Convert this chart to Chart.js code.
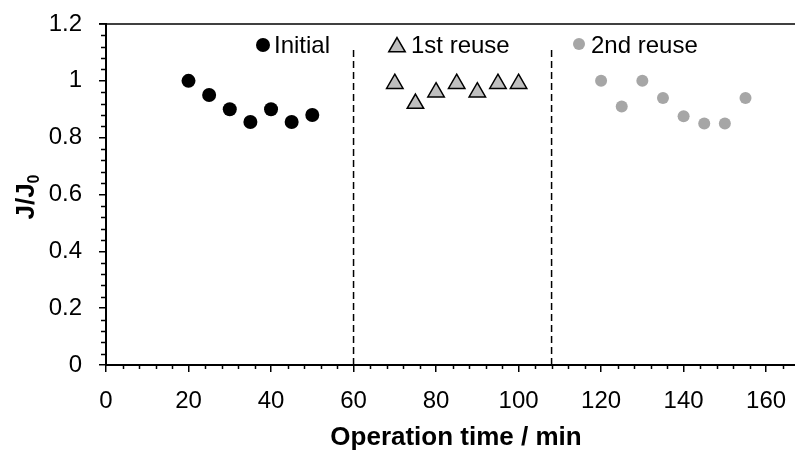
<!DOCTYPE html>
<html><head><meta charset="utf-8">
<script src="https://cdn.jsdelivr.net/npm/chart.js@4"></script>
<style>html,body{margin:0;padding:0;background:#fff;overflow:hidden}#wrap{width:795px;height:453px;position:relative}</style>
</head><body><div id="wrap"><canvas id="c" width="795" height="453"></canvas></div>
<script>
const initialX = [20, 25, 30, 35, 40, 45, 50];
const initialY = [1.0, 0.95, 0.9, 0.855, 0.9, 0.855, 0.88];
const reuse1X = [70, 75, 80, 85, 90, 95, 100];
const reuse1Y = [0.99, 0.92, 0.96, 0.99, 0.96, 0.99, 0.99];
const reuse2X = [120, 125, 130, 135, 140, 145, 150, 155];
const reuse2Y = [1.0, 0.91, 1.0, 0.94, 0.875, 0.85, 0.85, 0.94];
const dividerX = [60, 108];
const dividerTop = 1.12;
const seriesNames = ['Initial', '1st reuse', '2nd reuse'];
const xTicks = [0, 20, 40, 60, 80, 100, 120, 140, 160];
const yTicks = [0, 0.2, 0.4, 0.6, 0.8, 1, 1.2];
const yTickLabels = ['0', '0.2', '0.4', '0.6', '0.8', '1', '1.2'];
const xTitle = 'Operation time / min';
const yTitleMain = 'J/J';
const yTitleSub = '0';

const FONT = '"Liberation Sans", Arial, sans-serif';
const pts = (xs, ys) => xs.map((x, i) => ({x: x, y: ys[i]}));

const styles = [
  {pointStyle: 'circle', radius: 7, backgroundColor: '#000000', borderColor: '#000000', borderWidth: 0},
  {pointStyle: 'triangle', radius: 9.5, backgroundColor: '#BFBFBF', borderColor: '#000000', borderWidth: 1.5},
  {pointStyle: 'circle', radius: 6, backgroundColor: '#A6A6A6', borderColor: '#A6A6A6', borderWidth: 0}
];

const datasets = [];
dividerX.forEach(x => datasets.push({
  label: 'divider', data: [{x: x, y: 0}, {x: x, y: dividerTop}], showLine: true,
  borderColor: '#000', borderWidth: 1.5, borderDash: [7, 4], pointRadius: 0, fill: false
}));
[[initialX, initialY], [reuse1X, reuse1Y], [reuse2X, reuse2Y]].forEach((d, i) => datasets.push({
  label: seriesNames[i], data: pts(d[0], d[1]), showLine: false,
  pointStyle: styles[i].pointStyle, pointRadius: styles[i].radius,
  pointBackgroundColor: styles[i].backgroundColor, pointBorderColor: styles[i].borderColor,
  pointBorderWidth: styles[i].borderWidth
}));

const legendPos = [{mx: 263, tx: 274, y: 45}, {mx: 397, tx: 411, y: 47}, {mx: 579, tx: 591, y: 44}];

const deco = {
  id: 'deco',
  afterDraw(chart) {
    const ctx = chart.ctx, a = chart.chartArea;
    const xs = chart.scales.x, ys = chart.scales.y;
    ctx.save();
    ctx.strokeStyle = '#000';
    ctx.lineWidth = 1.5;
    // top frame line
    ctx.beginPath(); ctx.moveTo(a.left - 7, a.top); ctx.lineTo(chart.width, a.top); ctx.stroke();
    // minor ticks
    ctx.beginPath();
    for (let v = 4; v < xs.max; v += 4) {
      if (v % 20 === 0) continue;
      const px = Math.round(xs.getPixelForValue(v)) + 0.5;
      ctx.moveTo(px, a.bottom); ctx.lineTo(px, a.bottom + 4);
    }
    for (let k = 1; k < 30; k++) {
      if (k % 5 === 0) continue;
      const py = Math.round(ys.getPixelForValue(k * 0.04)) + 0.5;
      ctx.moveTo(a.left - 5, py); ctx.lineTo(a.left, py);
    }
    ctx.stroke();
    // legend
    ctx.fillStyle = '#000';
    ctx.font = '24px ' + FONT;
    ctx.textBaseline = 'middle';
    ctx.textAlign = 'left';
    seriesNames.forEach((n, i) => {
      const s = styles[i], p = legendPos[i];
      ctx.save();
      ctx.fillStyle = s.backgroundColor; ctx.strokeStyle = s.borderColor; ctx.lineWidth = s.borderWidth;
      Chart.helpers.drawPoint(ctx, {pointStyle: s.pointStyle, radius: s.radius, borderWidth: s.borderWidth, rotation: 0}, p.mx, p.y);
      ctx.restore();
      ctx.fillText(n, p.tx, 46);
    });
    // x title
    ctx.font = 'bold 26px ' + FONT;
    ctx.textAlign = 'center';
    ctx.fillText(xTitle, 456, 438);
    // y title with subscript
    ctx.font = 'bold 26px ' + FONT;
    const wMain = ctx.measureText(yTitleMain).width;
    ctx.font = 'bold 16px ' + FONT;
    const wSub = ctx.measureText(yTitleSub).width;
    const total = wMain + wSub;
    ctx.translate(34, 197);
    ctx.rotate(-Math.PI / 2);
    ctx.textAlign = 'left';
    ctx.textBaseline = 'alphabetic';
    ctx.font = 'bold 26px ' + FONT;
    ctx.fillText(yTitleMain, -total / 2, 0);
    ctx.font = 'bold 16px ' + FONT;
    ctx.fillText(yTitleSub, -total / 2 + wMain, 5);
    ctx.restore();
  }
};

new Chart(document.getElementById('c'), {
  type: 'scatter',
  data: {datasets: datasets},
  options: {
    responsive: false, animation: false,
    layout: {padding: 0, autoPadding: false},
    plugins: {legend: {display: false}, tooltip: {enabled: false}},
    scales: {
      x: {
        type: 'linear', min: 0, max: 167,
        afterBuildTicks: s => { s.ticks = xTicks.map(v => ({value: v})); },
        afterFit: s => { s.height = 88; s.paddingLeft = 0; s.paddingRight = 0; },
        ticks: {font: {size: 24, family: FONT}, color: '#000', padding: 15, maxRotation: 0, autoSkip: false},
        grid: {drawOnChartArea: false, drawTicks: true, tickLength: 7, color: '#000', lineWidth: 1.5},
        border: {display: true, color: '#000', width: 2}
      },
      y: {
        min: 0, max: 1.2,
        afterBuildTicks: s => { s.ticks = yTicks.map(v => ({value: v})); },
        afterFit: s => { s.width = 106; s.paddingTop = 24; s.paddingBottom = 0; },
        ticks: {font: {size: 24, family: FONT}, color: '#000', padding: 17,
          callback: (v) => { const i = yTicks.indexOf(v); return i >= 0 ? yTickLabels[i] : ''; }},
        grid: {drawOnChartArea: false, drawTicks: true, tickLength: 7, color: '#000', lineWidth: 1.5},
        border: {display: true, color: '#000', width: 2}
      }
    }
  },
  plugins: [deco]
});
</script></body></html>
